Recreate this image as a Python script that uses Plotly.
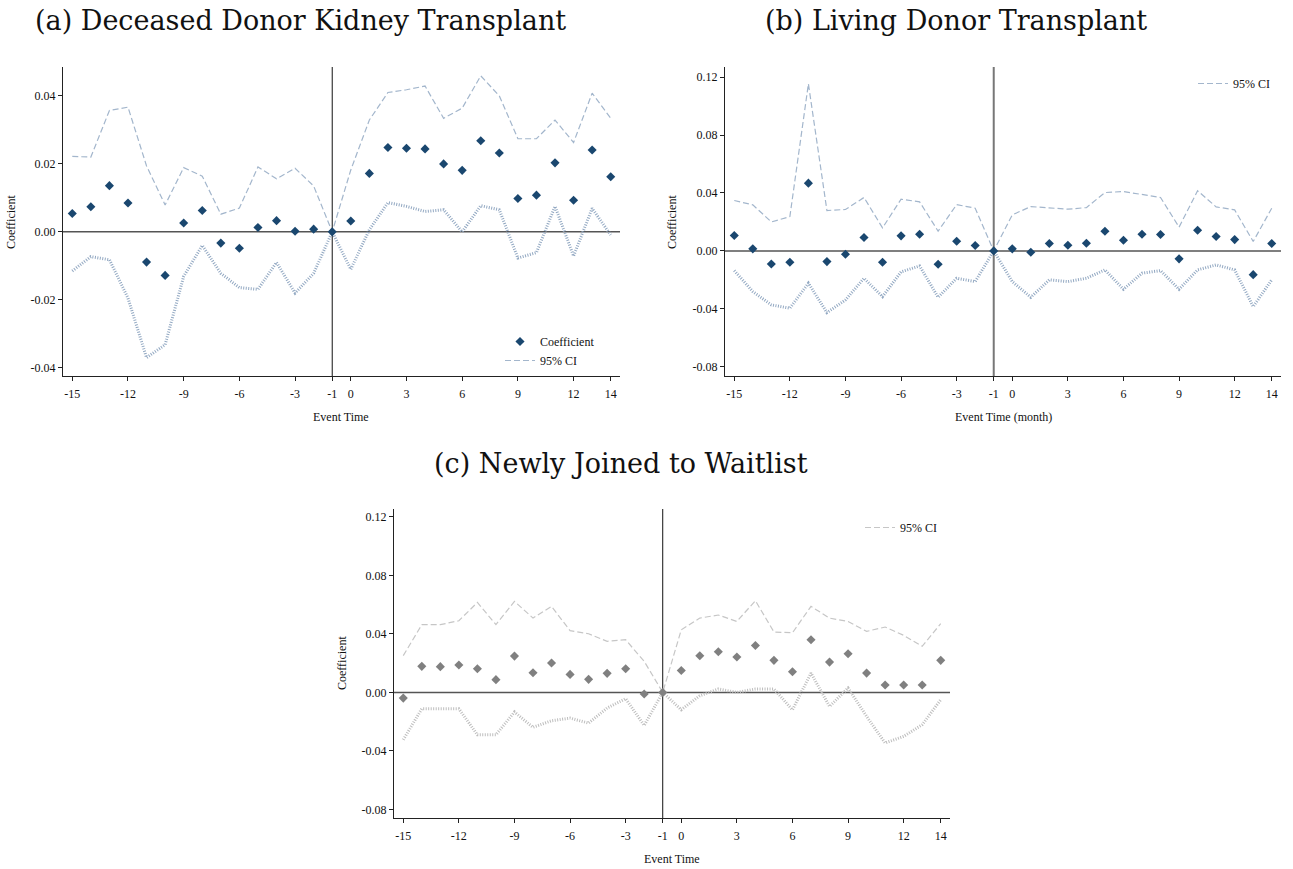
import plotly.graph_objects as go

W, H = 1293, 869

event_time = list(range(-15, 15))
x_tickvals = [-15, -12, -9, -6, -3, -1, 0, 3, 6, 9, 12, 14]
x_ticktext = ["-15", "-12", "-9", "-6", "-3", "-1", "0", "3", "6", "9", "12", "14"]

# Panel (a): Deceased Donor Kidney Transplant
a_coef = [0.0054, 0.0074, 0.0136, 0.0085, -0.0089, -0.0128, 0.0026, 0.0063, -0.0033, -0.0048,
          0.0013, 0.0033, 0.0002, 0.0008, 0.0, 0.0032, 0.0172, 0.0248, 0.0246, 0.0244,
          0.0200, 0.0181, 0.0268, 0.0232, 0.0098, 0.0108, 0.0203, 0.0093, 0.0241, 0.0162]
a_upper = [0.0222, 0.0220, 0.0357, 0.0367, 0.0194, 0.0079, 0.0189, 0.0164, 0.0052, 0.0070,
           0.0191, 0.0156, 0.0187, 0.0135, 0.0, 0.0182, 0.0329, 0.0410, 0.0418, 0.0429,
           0.0334, 0.0364, 0.0459, 0.0400, 0.0274, 0.0274, 0.0329, 0.0263, 0.0408, 0.0334]
a_lower = [-0.0115, -0.0073, -0.0082, -0.0195, -0.0370, -0.0332, -0.0131, -0.0040, -0.0122, -0.0164,
           -0.0169, -0.0090, -0.0180, -0.0122, 0.0, -0.0110, 0.0006, 0.0086, 0.0075, 0.0060,
           0.0065, 0.0000, 0.0077, 0.0065, -0.0077, -0.0061, 0.0075, -0.0071, 0.0069, -0.0009]
a_yticks = [-0.04, -0.02, 0.0, 0.02, 0.04]
a_yticktext = ["-0.04", "-0.02", "0.00", "0.02", "0.04"]

# Panel (b): Living Donor Transplant
b_coef = [0.0106, 0.0014, -0.0090, -0.0078, 0.0468, -0.0074, -0.0023, 0.0092, -0.0078, 0.0104,
          0.0115, -0.0092, 0.0067, 0.0037, 0.0, 0.0014, -0.0009, 0.0051, 0.0039, 0.0053,
          0.0136, 0.0074, 0.0115, 0.0113, -0.0055, 0.0143, 0.0099, 0.0078, -0.0164, 0.0051]
b_upper = [0.0348, 0.0318, 0.0200, 0.0237, 0.1154, 0.0279, 0.0286, 0.0369, 0.0159, 0.0357,
           0.0339, 0.0136, 0.0320, 0.0295, 0.0, 0.0249, 0.0306, 0.0299, 0.0288, 0.0299,
           0.0403, 0.0410, 0.0389, 0.0369, 0.0164, 0.0415, 0.0304, 0.0283, 0.0065, 0.0295]
b_lower = [-0.0136, -0.0281, -0.0373, -0.0396, -0.0223, -0.0426, -0.0339, -0.0189, -0.0316, -0.0145,
           -0.0104, -0.0320, -0.0189, -0.0212, 0.0, -0.0212, -0.0320, -0.0200, -0.0212, -0.0189,
           -0.0131, -0.0265, -0.0154, -0.0136, -0.0265, -0.0131, -0.0097, -0.0131, -0.0385, -0.0200]

# Panel (c): Newly Joined to Waitlist
c_coef = [-0.0039, 0.0178, 0.0176, 0.0187, 0.0162, 0.0087, 0.0248, 0.0134, 0.0201, 0.0123,
          0.0089, 0.0130, 0.0162, -0.0011, 0.0, 0.0150, 0.0251, 0.0278, 0.0242, 0.0321,
          0.0219, 0.0141, 0.0360, 0.0207, 0.0264, 0.0132, 0.0050, 0.0050, 0.0050, 0.0219]
c_upper = [0.0251, 0.0463, 0.0463, 0.0490, 0.0615, 0.0463, 0.0622, 0.0508, 0.0588, 0.0422,
           0.0401, 0.0349, 0.0360, 0.0212, 0.0, 0.0428, 0.0508, 0.0529, 0.0485, 0.0627,
           0.0413, 0.0408, 0.0588, 0.0508, 0.0485, 0.0417, 0.0447, 0.0390, 0.0315, 0.0470]
c_lower = [-0.0324, -0.0112, -0.0112, -0.0112, -0.0290, -0.0290, -0.0134, -0.0239, -0.0194, -0.0176,
           -0.0210, -0.0107, -0.0043, -0.0226, 0.0, -0.0119, -0.0023, 0.0023, 0.0000, 0.0023,
           0.0023, -0.0119, 0.0132, -0.0096, 0.0030, -0.0164, -0.0346, -0.0301, -0.0221, -0.0050]
bc_yticks = [-0.08, -0.04, 0.0, 0.04, 0.08, 0.12]
bc_yticktext = ["-0.08", "-0.04", "0.00", "0.04", "0.08", "0.12"]

FONT = "Liberation Serif"
TITLE_FONT = "DejaVu Serif"
NAVY = "#1a476f"
BLUE_CI_U = "#a3b6cc"
BLUE_CI_L = "#92a8c2"
GRAY_M = "#808080"
GRAY_CI_U = "#c6c6c6"
GRAY_CI_L = "#bdbdbd"


def fx(p):
    return p / W


def fy(p):
    return 1 - p / H


def px_dom_x(a, b):
    return [fx(a), fx(b)]


def px_dom_y(top, bottom):
    return [fy(bottom), fy(top)]


fig = go.Figure()

panels = [
    dict(xa="x", ya="y", coef=a_coef, up=a_upper, lo=a_lower, mc=NAVY, cu=BLUE_CI_U, cl=BLUE_CI_L,
         leg="legend", show_coef=True),
    dict(xa="x2", ya="y2", coef=b_coef, up=b_upper, lo=b_lower, mc=NAVY, cu=BLUE_CI_U, cl=BLUE_CI_L,
         leg="legend2", show_coef=False),
    dict(xa="x3", ya="y3", coef=c_coef, up=c_upper, lo=c_lower, mc=GRAY_M, cu=GRAY_CI_U, cl=GRAY_CI_L,
         leg="legend3", show_coef=False),
]

for p in panels:
    fig.add_trace(go.Scatter(x=event_time, y=p["up"], mode="lines", name="95% CI",
                             line=dict(color=p["cu"], width=1.2, dash="6px,3px"),
                             xaxis=p["xa"], yaxis=p["ya"], legend=p["leg"], showlegend=True,
                             legendrank=2))
    fig.add_trace(go.Scatter(x=event_time, y=p["lo"], mode="lines", name="95% CI lower",
                             line=dict(color=p["cl"], width=3, dash="1px,1.5px"),
                             xaxis=p["xa"], yaxis=p["ya"], legend=p["leg"], showlegend=False))
    fig.add_trace(go.Scatter(x=event_time, y=p["coef"], mode="markers", name="Coefficient",
                             marker=dict(symbol="diamond", size=7, color=p["mc"]),
                             xaxis=p["xa"], yaxis=p["ya"], legend=p["leg"],
                             showlegend=p["show_coef"], legendrank=1))

axis_common = dict(showgrid=False, zeroline=False, showline=True, linecolor="#222", linewidth=1,
                   ticks="outside", ticklen=4, tickcolor="#222", tickwidth=1,
                   tickfont=dict(family=FONT, size=12, color="#111"))

xaxis_common = dict(axis_common, range=[-15.5, 14.5], tickvals=x_tickvals, ticktext=x_ticktext,
                    ticklabelstandoff=3)

leg_common = dict(xanchor="right", yanchor="top", bgcolor="rgba(0,0,0,0)",
                  font=dict(family=FONT, size=12, color="#111"), tracegroupgap=0, itemwidth=30)

fig.update_layout(
    width=W, height=H, margin=dict(l=0, r=0, t=0, b=0),
    paper_bgcolor="white", plot_bgcolor="white",
    font=dict(family=FONT, size=12, color="#111"),
    xaxis=dict(xaxis_common, domain=px_dom_x(63, 620), anchor="y"),
    yaxis=dict(axis_common, domain=px_dom_y(67, 376), anchor="x", range=[-0.0424, 0.0485],
               tickvals=a_yticks, ticktext=a_yticktext),
    xaxis2=dict(xaxis_common, domain=px_dom_x(725, 1281), anchor="y2"),
    yaxis2=dict(axis_common, domain=px_dom_y(67, 376), anchor="x2", range=[-0.0864, 0.127],
                tickvals=bc_yticks, ticktext=bc_yticktext),
    xaxis3=dict(xaxis_common, domain=px_dom_x(394, 950), anchor="y3"),
    yaxis3=dict(axis_common, domain=px_dom_y(509, 818), anchor="x3", range=[-0.0859, 0.1254],
                tickvals=bc_yticks, ticktext=bc_yticktext),
    legend=dict(leg_common, x=fx(600), y=fy(327)),
    legend2=dict(leg_common, x=fx(1275), y=fy(69)),
    legend3=dict(leg_common, x=fx(942), y=fy(513)),
)

# reference lines at y=0 and x=-1
for xa, ya, vcol, vw in [("x", "y", "#111", 1), ("x2", "y2", "#777", 2), ("x3", "y3", "#111", 1)]:
    fig.add_shape(type="line", xref=f"{xa} domain", yref=ya, x0=0, x1=1, y0=0, y1=0,
                  line=dict(color="#555", width=1.5), layer="below")
    fig.add_shape(type="line", xref=xa, yref=f"{ya} domain", x0=-1, x1=-1, y0=0, y1=1,
                  line=dict(color=vcol, width=vw), layer="below")

# titles
titles = [("(a) Deceased Donor Kidney Transplant", 33, 20),
          ("(b) Living Donor Transplant", 763, 20),
          ("(c) Newly Joined to Waitlist", 432, 463)]
for txt, tx, ty in titles:
    fig.add_annotation(text=txt, x=fx(tx), y=fy(ty), xref="paper", yref="paper",
                       xanchor="left", yanchor="middle", showarrow=False,
                       font=dict(family=TITLE_FONT, size=27, color="#111"))

# axis titles
axis_titles = [("Event Time", 341, 417, 0), ("Event Time (month)", 1003, 417, 0),
               ("Event Time", 672, 859, 0),
               ("Coefficient", 11, 222, -90), ("Coefficient", 342, 663, -90),
               ("Coefficient", 672, 222, -90)]
for txt, tx, ty, rot in axis_titles:
    fig.add_annotation(text=txt, x=fx(tx), y=fy(ty), xref="paper", yref="paper",
                       xanchor="center", yanchor="middle", showarrow=False, textangle=rot,
                       font=dict(family=FONT, size=12, color="#111"))

# remove the default page margin so the figure sits at the window's top-left corner
fig.write_html("out.html", config={"displayModeBar": False},
               post_script="document.body.style.margin='0px';")
